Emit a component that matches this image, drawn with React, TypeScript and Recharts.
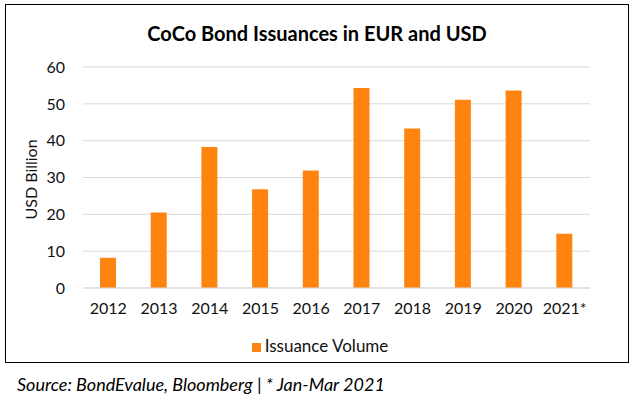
import React from 'react';
import { BarChart, Bar, XAxis, YAxis, CartesianGrid, Legend } from 'recharts';

const years = ['2012', '2013', '2014', '2015', '2016', '2017', '2018', '2019', '2020', '2021*'];
const issuance = [8.2, 20.5, 38.3, 26.8, 31.9, 54.3, 43.3, 51.1, 53.6, 14.7];
const yTicks = [0, 10, 20, 30, 40, 50, 60];

const data = years.map((y, i) => ({ year: y, volume: issuance[i] }));

const FONT = 'Lato, "Open Sans", sans-serif';
const ORANGE = '#FF840F';
const TXT = '#111';

export default function App() {
  return (
    <div style={{ position: 'fixed', left: 0, top: 0, width: 634, height: 396, background: '#fff', fontFamily: FONT }}>
      <div style={{ position: 'absolute', left: 5, top: 4, width: 624, height: 359, border: '1px solid #000', boxSizing: 'border-box' }} />
      <div style={{ position: 'absolute', left: 0, top: 20, width: 634, textAlign: 'center', fontSize: 20, fontWeight: 700, color: '#000', lineHeight: '26px' }}>
        CoCo Bond Issuances in EUR and USD
      </div>
      <div style={{ position: 'absolute', left: 0, top: 0 }}>
        <BarChart width={634} height={396} data={data} margin={{ top: 67, right: 44, bottom: 78, left: 43 }}>
          <CartesianGrid vertical={false} stroke="#d9d9d9" />
          <XAxis dataKey="year" axisLine={{ stroke: '#d9d9d9' }} tickLine={false} tickSize={0} tickMargin={15} height={30}
            tick={{ fill: TXT, fontSize: 16, fontFamily: FONT }} interval={0} />
          <YAxis domain={[0, 60]} ticks={yTicks} width={40} axisLine={false} tickLine={false} tickSize={0} tickMargin={18}
            tick={{ fill: TXT, fontSize: 16, fontFamily: FONT }}
            label={{ value: 'USD Billion', angle: -90, position: 'insideLeft', dx: -17, dy: 42, style: { fill: TXT, fontSize: 16, fontFamily: FONT } }} />
          <Legend layout="horizontal" verticalAlign="middle" align="center" iconType="square" iconSize={9}
            wrapperStyle={{ top: 335, left: 8, width: 634, fontSize: 17, fontFamily: FONT }}
            formatter={(v: string) => <span style={{ color: TXT }}>{v}</span>} />
          <Bar dataKey="volume" name="Issuance Volume" fill={ORANGE} barSize={16} isAnimationActive={false} />
        </BarChart>
      </div>
      <div style={{ position: 'absolute', left: 17, top: 373, fontSize: 18, fontStyle: 'italic', color: '#000', lineHeight: '22px' }}>
        Source: BondEvalue, Bloomberg | * Jan-Mar 2021
      </div>
    </div>
  );
}
